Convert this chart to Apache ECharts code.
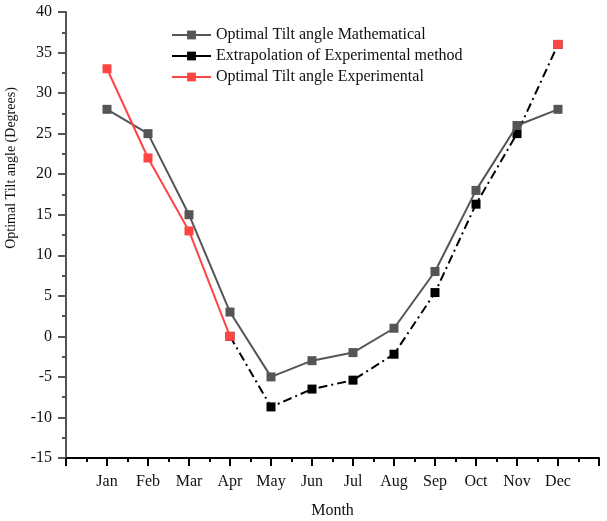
<!DOCTYPE html>
<html>
<head>
<meta charset="utf-8">
<script src="https://cdn.jsdelivr.net/npm/echarts@6/dist/echarts.min.js"></script>
<style>
  html, body { margin: 0; padding: 0; background: #fff; }
  #chart { width: 607px; height: 521px; }
</style>
</head>
<body>
<div id="chart"></div>
<script>
// Months on the horizontal axis (positions 1..12 of a 0..13 axis)
const months = ['Jan', 'Feb', 'Mar', 'Apr', 'May', 'Jun', 'Jul', 'Aug', 'Sep', 'Oct', 'Nov', 'Dec'];

// Optimal tilt angle from the mathematical model (degrees)
const mathematical = [28, 25, 15, 3, -5, -3, -2, 1, 8, 18, 26, 28];

// Measured optimal tilt angle (degrees); null where no measurement
const experimental = [33, 22, 13, 0, null, null, null, null, null, null, null, 36];

// Extrapolated experimental curve, from April to December
const extrapolation = [null, null, null, 0, -8.7, -6.5, -5.4, -2.2, 5.4, 16.3, 25, 36];

const yTicks = { min: -15, max: 40, step: 5 };

const seriesNames = [
  'Optimal Tilt angle Mathematical',
  'Extrapolation of Experimental method',
  'Optimal Tilt angle Experimental'
];

function toPoints(values) {
  return values.map((v, i) => [i + 1, v]);
}

const font = '"Liberation Serif", "Times New Roman", serif';

const chart = echarts.init(document.getElementById('chart'));
chart.setOption({
  animation: false,
  backgroundColor: '#ffffff',
  textStyle: { fontFamily: font },
  grid: { left: 66, right: 8, top: 12, bottom: 63, containLabel: false, outerBoundsMode: 'none' },
  legend: {
    orient: 'vertical',
    left: 166,
    top: 22,
    padding: 5,
    itemWidth: 39,
    itemHeight: 11,
    itemGap: 5,
    textStyle: { fontFamily: font, fontSize: 16, lineHeight: 16, color: '#111' },
    data: [
      { name: seriesNames[0] },
      { name: seriesNames[1], lineStyle: { type: 'solid' } },
      { name: seriesNames[2] }
    ]
  },
  xAxis: {
    type: 'value',
    min: 0,
    max: 13,
    interval: 1,
    name: 'Month',
    nameLocation: 'middle',
    nameGap: 45,
    nameTextStyle: { fontFamily: font, fontSize: 16, color: '#111' },
    axisLine: { show: true, onZero: false, lineStyle: { color: '#000', width: 2 } },
    axisTick: { show: true, inside: false, length: 8, lineStyle: { color: '#000', width: 2 } },
    minorTick: { show: true, splitNumber: 2, length: 4, lineStyle: { color: '#000', width: 2 } },
    splitLine: { show: false },
    axisLabel: {
      margin: 16,
      fontFamily: font,
      fontSize: 16,
      color: '#111',
      formatter: v => (v >= 1 && v <= 12 ? months[v - 1] : '')
    }
  },
  yAxis: {
    type: 'value',
    min: yTicks.min,
    max: yTicks.max,
    interval: yTicks.step,
    name: 'Optimal Tilt angle (Degrees)',
    nameLocation: 'middle',
    nameGap: 48,
    nameTextStyle: { fontFamily: font, fontSize: 14, color: '#111', padding: [0, 0, 0, 134] },
    axisLine: { show: true, onZero: false, lineStyle: { color: '#555', width: 2 } },
    axisTick: { show: true, inside: false, length: 8, lineStyle: { color: '#555', width: 2 } },
    minorTick: { show: true, splitNumber: 2, length: 4, lineStyle: { color: '#555', width: 2 } },
    splitLine: { show: false },
    axisLabel: { margin: 14, fontFamily: font, fontSize: 16, color: '#111' }
  },
  series: [
    {
      name: seriesNames[0],
      type: 'line',
      data: toPoints(mathematical),
      symbol: 'rect',
      symbolSize: 9,
      color: '#555555',
      lineStyle: { color: '#555555', width: 2 },
      itemStyle: { color: '#555555' },
      z: 3
    },
    {
      name: seriesNames[1],
      type: 'line',
      data: toPoints(extrapolation),
      symbol: 'rect',
      symbolSize: 9,
      color: '#000000',
      lineStyle: { color: '#000000', width: 2, type: [9, 4, 2, 4] },
      itemStyle: { color: '#000000' },
      z: 2
    },
    {
      name: seriesNames[2],
      type: 'line',
      data: toPoints(experimental),
      connectNulls: false,
      symbol: 'rect',
      symbolSize: 9,
      color: '#ff4444',
      lineStyle: { color: '#ff4444', width: 2 },
      itemStyle: { color: '#ff4444' },
      z: 4
    }
  ]
});
</script>
</body>
</html>
